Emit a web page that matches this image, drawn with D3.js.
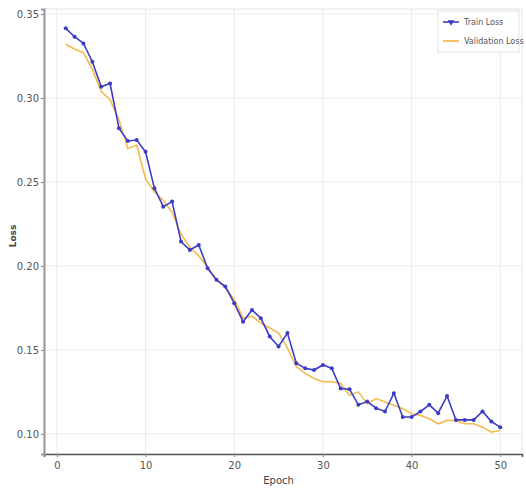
<!DOCTYPE html>
<html>
<head>
<meta charset="utf-8">
<script src="https://cdn.jsdelivr.net/npm/d3@7"></script>
<style>
  body { margin: 0; background: #fff; }
  text { font-family: "DejaVu Sans", sans-serif; }
</style>
</head>
<body>
<div id="chart"></div>
<script>
var svgWidth = 526;
var svgHeight = 490;

var margin = { top: 9, right: 4, bottom: 36, left: 44 };
var width = svgWidth - margin.left - margin.right;
var height = svgHeight - margin.top - margin.bottom;

// data
var epochs = d3.range(1, 51);
var trainLoss = [0.3415, 0.3365, 0.3325, 0.3216, 0.3067, 0.3087, 0.282, 0.2744, 0.275, 0.268,
  0.2462, 0.2353, 0.2383, 0.2145, 0.2095, 0.2125, 0.1986, 0.1917, 0.1877, 0.1778,
  0.1668, 0.1738, 0.1689, 0.158, 0.152, 0.16, 0.142, 0.139, 0.138, 0.141,
  0.139, 0.127, 0.1266, 0.1173, 0.1192, 0.1153, 0.1133, 0.1242, 0.110, 0.110,
  0.1133, 0.1173, 0.1123, 0.1226, 0.1083, 0.1083, 0.1083, 0.1133, 0.1073, 0.104];
var valLoss = [0.332, 0.329, 0.327, 0.317, 0.304, 0.299, 0.287, 0.270, 0.272, 0.252,
  0.244, 0.239, 0.232, 0.219, 0.211, 0.206, 0.199, 0.192, 0.187, 0.180,
  0.169, 0.170, 0.166, 0.163, 0.160, 0.151, 0.140, 0.136, 0.133, 0.131,
  0.131, 0.130, 0.123, 0.125, 0.118, 0.121, 0.119, 0.117, 0.115, 0.112,
  0.111, 0.109, 0.106, 0.108, 0.108, 0.106, 0.106, 0.104, 0.101, 0.102];
var xTicks = [0, 10, 20, 30, 40, 50];
var yTicks = [0.10, 0.15, 0.20, 0.25, 0.30, 0.35];
var seriesNames = ["Train Loss", "Validation Loss"];

var trainColor = "#3b3bc4";
var valColor = "#f4b23a";

var svg = d3.select("#chart")
  .append("svg")
  .attr("width", svgWidth)
  .attr("height", svgHeight);

var chartGroup = svg.append("g")
  .attr("transform", "translate(" + margin.left + "," + margin.top + ")");

var xScale = d3.scaleLinear().domain([-1.45, 52.45]).range([0, width]);
var yScale = d3.scaleLinear().domain([0.088, 0.353]).range([height, 0]);

// grid
chartGroup.append("g")
  .selectAll("line")
  .data(xTicks)
  .enter()
  .append("line")
  .attr("x1", d => xScale(d)).attr("x2", d => xScale(d))
  .attr("y1", 0).attr("y2", height)
  .attr("stroke", "#ebebeb");

chartGroup.append("g")
  .selectAll("line")
  .data(yTicks)
  .enter()
  .append("line")
  .attr("x1", 0).attr("x2", width)
  .attr("y1", d => yScale(d)).attr("y2", d => yScale(d))
  .attr("stroke", "#ebebeb");

// faint frame
chartGroup.append("rect")
  .attr("width", width).attr("height", height)
  .attr("fill", "none").attr("stroke", "#e4e4e4");

// axes
var bottomAxis = d3.axisBottom(xScale).tickValues(xTicks).tickSize(3).tickPadding(5)
  .tickFormat(d3.format("d"));
var leftAxis = d3.axisLeft(yScale).tickValues(yTicks).tickSize(3).tickPadding(2)
  .tickFormat(d3.format(".2f"));

var xAxis = chartGroup.append("g")
  .attr("transform", "translate(0," + height + ")")
  .call(bottomAxis);
xAxis.select(".domain").attr("stroke", "#555").attr("stroke-width", 1.5);
xAxis.selectAll(".tick line").attr("stroke", "#888");
xAxis.selectAll("text").attr("fill", "#555").style("font-size", "10px");

var yAxis = chartGroup.append("g").call(leftAxis);
yAxis.select(".domain").attr("stroke", "#999").attr("stroke-width", 2);
yAxis.selectAll(".tick line").attr("stroke", "#888");
yAxis.selectAll("text").attr("fill", "#555").style("font-size", "10px");

// lines
var line = d3.line()
  .x((d, i) => xScale(epochs[i]))
  .y(d => yScale(d));

chartGroup.append("path")
  .datum(valLoss)
  .attr("fill", "none")
  .attr("stroke", valColor)
  .attr("stroke-width", 1.6)
  .attr("opacity", 0.9)
  .attr("d", line);

chartGroup.append("path")
  .datum(trainLoss)
  .attr("fill", "none")
  .attr("stroke", trainColor)
  .attr("stroke-width", 1.6)
  .attr("d", line);

chartGroup.append("g")
  .selectAll("circle")
  .data(trainLoss)
  .enter()
  .append("circle")
  .attr("cx", (d, i) => xScale(epochs[i]))
  .attr("cy", d => yScale(d))
  .attr("r", 2)
  .attr("fill", trainColor);

// axis labels
svg.append("text")
  .attr("x", margin.left + xScale(25))
  .attr("y", 484)
  .attr("text-anchor", "middle")
  .attr("fill", "#444")
  .style("font-size", "10px")
  .text("Epoch");

svg.append("text")
  .attr("transform", "translate(16,236) rotate(-90)")
  .attr("text-anchor", "middle")
  .attr("fill", "#444")
  .style("font-size", "9px")
  .style("font-weight", "bold")
  .text("Loss");

// legend
var legend = svg.append("g").attr("transform", "translate(438,11)");
legend.append("rect")
  .attr("width", 81).attr("height", 41)
  .attr("fill", "#fff").attr("stroke", "#e2e2e2");

var legendColors = [trainColor, valColor];
seriesNames.forEach(function(name, i) {
  var y = 11 + i * 19;
  legend.append("line")
    .attr("x1", 5).attr("x2", 21)
    .attr("y1", y).attr("y2", y)
    .attr("stroke", legendColors[i]).attr("stroke-width", 1.6);
  if (i === 0) {
    legend.append("path")
      .attr("d", d3.symbol().type(d3.symbolTriangle).size(18)())
      .attr("transform", "translate(13," + y + ") rotate(180)")
      .attr("fill", trainColor);
  }
  legend.append("text")
    .attr("x", 26).attr("y", y + 3)
    .attr("fill", "#555")
    .style("font-size", "8px")
    .text(name);
});
</script>
</body>
</html>
